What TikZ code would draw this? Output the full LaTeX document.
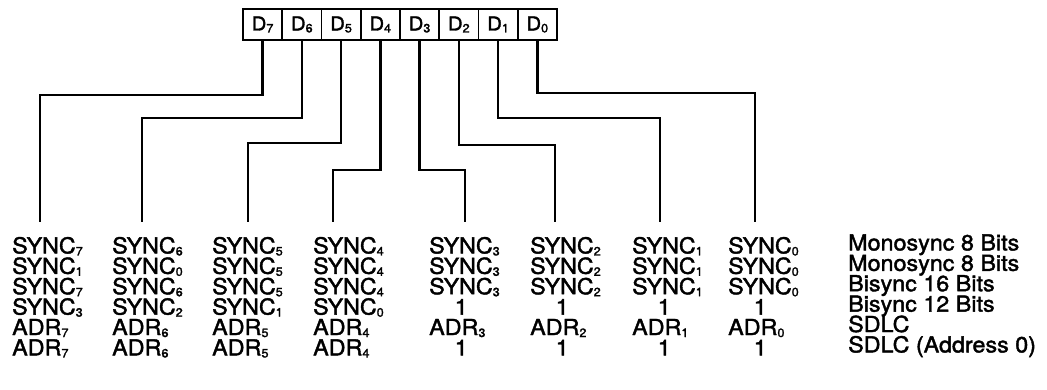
\documentclass[tikz,border=0pt]{standalone}
\usepackage{fontspec}
\setmainfont[FakeBold=1.8, FakeStretch=1.06]{TeX Gyre Heros}
\usetikzlibrary{positioning}
\tikzset{
    zelle/.style={draw, line width=1.8pt, minimum width=39.25pt, minimum height=31pt,
        inner sep=0pt, outer sep=0pt, font=\fontsize{19}{19}\selectfont},
    leitung/.style={line width=2.6pt},
    eintrag/.style={anchor=base west, inner sep=0pt, font=\fontsize{22}{22}\selectfont}
}
\newcommand{\idx}[1]{\raisebox{-2pt}{\fontsize{12}{12}\selectfont #1}}
\newcommand{\sy}[1]{SYNC\idx{#1}}
\newcommand{\ad}[1]{ADR\idx{#1}}
\newcommand{\eins}{\makebox[64pt]{1}}

\begin{document}
\begin{tikzpicture}[x=1pt, y=-1pt]
  \useasboundingbox (0,0) rectangle (1047,389);

  % Register
  \node[zelle] (d7) at (262.6,24.5) {D\idx{7}};
  \node[zelle, right=0pt of d7] (d6) {D\idx{6}};
  \node[zelle, right=0pt of d6] (d5) {D\idx{5}};
  \node[zelle, right=0pt of d5] (d4) {D\idx{4}};
  \node[zelle, right=0pt of d4] (d3) {D\idx{3}};
  \node[zelle, right=0pt of d3] (d2) {D\idx{2}};
  \node[zelle, right=0pt of d2] (d1) {D\idx{1}};
  \node[zelle, right=0pt of d1] (d0) {D\idx{0}};

  % Enden der Leitungen
  \foreach \i/\x in {7/40, 6/142, 5/248, 4/333, 3/465, 2/555, 1/660, 0/755}
    \coordinate (e\i) at (\x,222);

  % Leitungen
  \foreach \i/\h in {7/95, 6/118, 5/143, 4/170, 3/170, 2/145, 1/118, 0/93}
    \draw[leitung] (d\i.south) -- (d\i.south |- 0,\h) -| (e\i);

  % Tabelle
  \foreach \i/\x/\liste in {
      7/12/{\sy7,\sy1,\sy7,\sy3,\ad7,\ad7},
      6/112/{\sy6,\sy0,\sy6,\sy2,\ad6,\ad6},
      5/212/{\sy5,\sy5,\sy5,\sy1,\ad5,\ad5},
      4/313/{\sy4,\sy4,\sy4,\sy0,\ad4,\ad4},
      3/429/{\sy3,\sy3,\sy3,\eins,\ad3,\eins},
      2/530/{\sy2,\sy2,\sy2,\eins,\ad2,\eins},
      1/632/{\sy1,\sy1,\sy1,\eins,\ad1,\eins},
      0/728/{\sy0,\sy0,\sy0,\eins,\ad0,\eins}}
    \foreach \e [count=\r] in \liste
      \node[eintrag] (z\r-\i) at (\x,233+20.4*\r) {\e};

  % Betriebsarten
  \foreach \e [count=\r] in {Monosync 8 Bits, Monosync 8 Bits, Bisync 16 Bits,
      Bisync 12 Bits, SDLC, SDLC (Address 0)}
    \node[eintrag] (z\r-m) at (848,230+20.4*\r) {\e};

\end{tikzpicture}
\end{document}
